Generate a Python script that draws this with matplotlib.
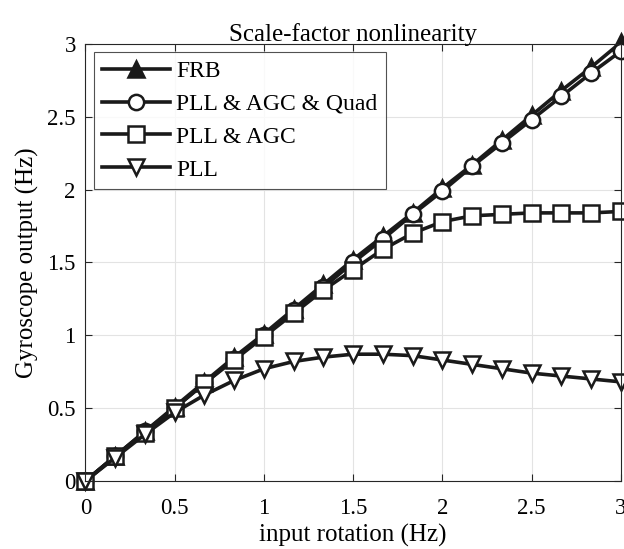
import numpy as np
import matplotlib
matplotlib.use("Agg")
import matplotlib.pyplot as plt

plt.rcParams["font.family"] = ["Liberation Serif", "DejaVu Serif"]
plt.rcParams["mathtext.fontset"] = "stix"

# input rotation (Hz)
x = np.arange(19) / 6.0

frb = [0.00, 0.17, 0.34, 0.51, 0.68, 0.85, 1.01, 1.18, 1.35, 1.52,
       1.68, 1.84, 2.01, 2.17, 2.34, 2.51, 2.68, 2.84, 3.01]
quad = [0.00, 0.17, 0.34, 0.50, 0.67, 0.84, 1.00, 1.17, 1.33, 1.50,
        1.66, 1.83, 1.99, 2.16, 2.32, 2.48, 2.64, 2.80, 2.95]
agc = [0.00, 0.17, 0.33, 0.50, 0.67, 0.83, 0.99, 1.15, 1.31, 1.45,
       1.59, 1.70, 1.78, 1.82, 1.83, 1.84, 1.84, 1.84, 1.85]
pll = [0.00, 0.16, 0.32, 0.47, 0.59, 0.69, 0.77, 0.82, 0.85, 0.87,
       0.87, 0.86, 0.83, 0.80, 0.77, 0.74, 0.72, 0.70, 0.68]

series = [
    (frb, "^", "#1a1a1a", "FRB"),
    (quad, "o", "w", "PLL & AGC & Quad"),
    (agc, "s", "w", "PLL & AGC"),
    (pll, "v", "w", "PLL"),
]

fig = plt.figure(figsize=(6.24, 5.49), dpi=100)
ax = fig.add_axes([0.137, 0.124, 0.858, 0.796])

for y, m, fc, lab in series:
    ax.plot(x, y, color="#1a1a1a", lw=2.6, marker=m, ms=11,
            mfc=fc, mec="#1a1a1a", mew=1.8, label=lab, clip_on=False)

ax.set_xlim(0, 3)
ax.set_ylim(0, 3)
ticks = [0, 0.5, 1, 1.5, 2, 2.5, 3]
tick_labels = ["0", "0.5", "1", "1.5", "2", "2.5", "3"]
ax.set_xticks(ticks)
ax.set_yticks(ticks)
ax.set_xticklabels(tick_labels)
ax.set_yticklabels(tick_labels)
ax.grid(True, color="#e3e3e3", lw=0.8)
ax.set_axisbelow(True)
ax.tick_params(direction="in", top=True, right=True, labelsize=16.5,
               length=5, width=0.8, color="#262626")
ax.tick_params(axis="x", pad=12)
ax.tick_params(axis="y", pad=7)
for s in ax.spines.values():
    s.set_color("#262626")
    s.set_linewidth(0.8)

ax.set_xlabel("input rotation (Hz)", fontsize=18, labelpad=4)
ax.set_ylabel("Gyroscope output (Hz)", fontsize=18, labelpad=6)
ax.set_title("Scale-factor nonlinearity", fontsize=18, pad=2)

leg = ax.legend(loc="upper left", fontsize=17, handlelength=2.9,
                frameon=True, fancybox=False, edgecolor="#262626",
                borderaxespad=0.35, labelspacing=0.48, handletextpad=0.25,
                borderpad=0.35)
leg.get_frame().set_linewidth(0.8)

fig.savefig("out.png", dpi=100)
